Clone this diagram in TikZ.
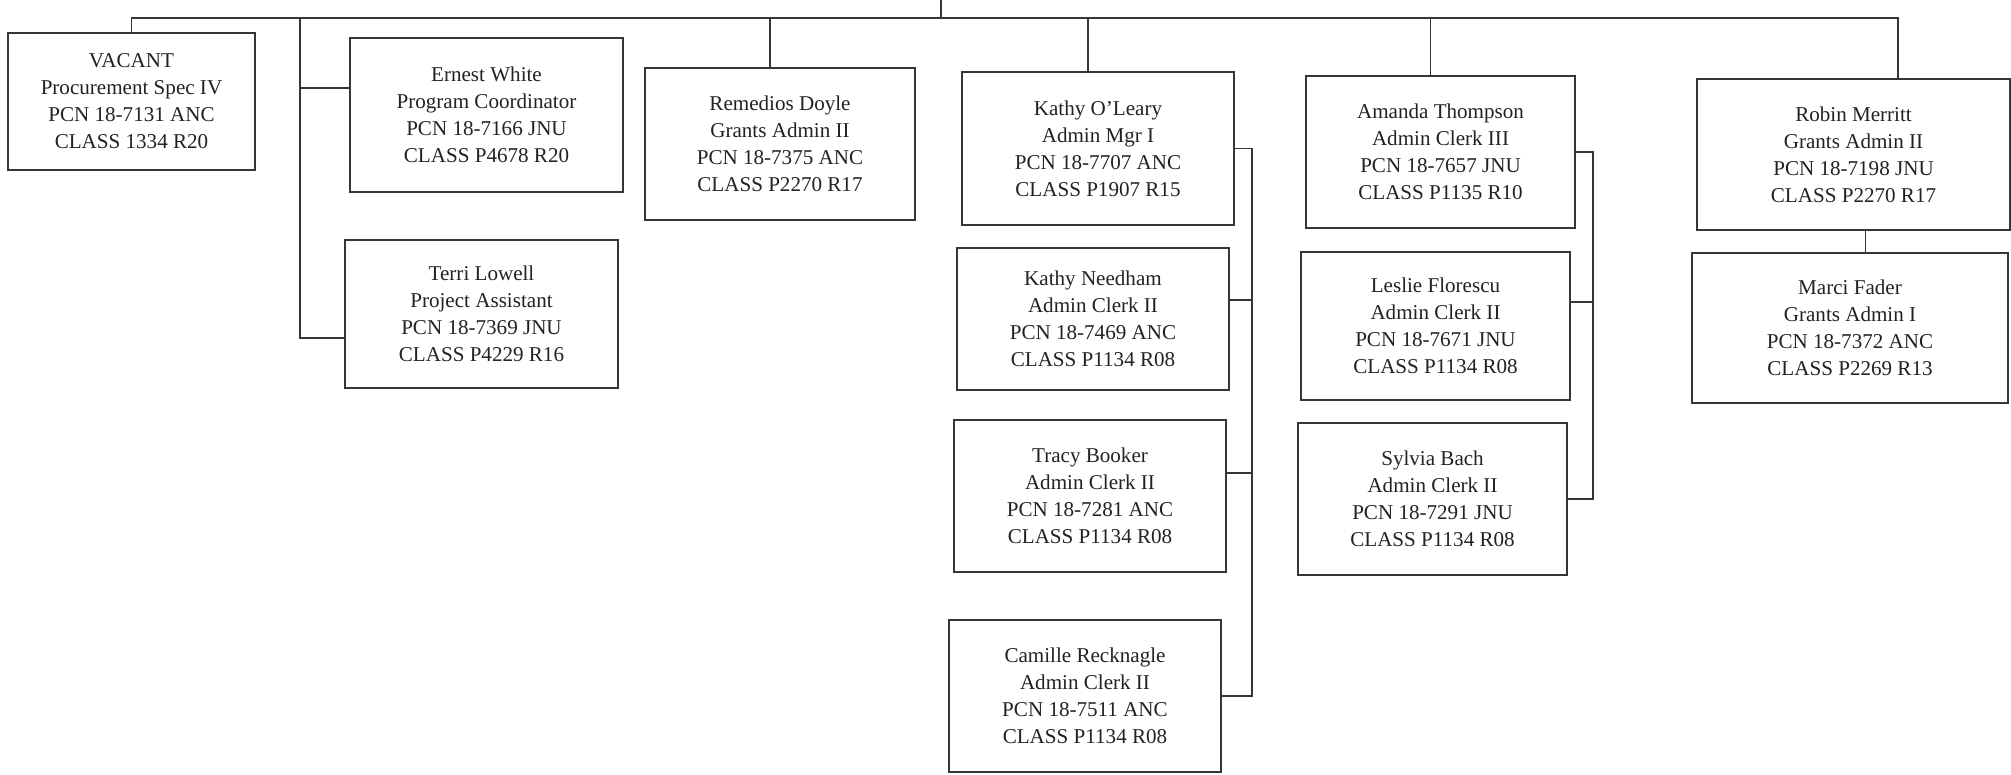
\documentclass[tikz,border=0pt]{standalone}
\usepackage{fontspec}
\setmainfont{Liberation Serif}
\usepackage{tikz}
\usetikzlibrary{positioning,calc}
\definecolor{cLine}{HTML}{363636}
\definecolor{cText}{HTML}{222222}
\tikzset{
  posbox/.style 2 args={draw=cLine, line width=1.1pt, fill=white, inner sep=0pt,
              minimum width=#1, minimum height=#2, align=center,
              font=\fontsize{12}{15.4}\selectfont, text=cText},
  link/.style={draw=cLine, line width=1.1pt}
}
\newcommand{\posn}[4]{#1\\#2\\#3\\#4}

\begin{document}
\begin{tikzpicture}[x=0.02cm, y=-0.02cm]
\useasboundingbox (0,0) rectangle (2011,774);
% top row
\node[posbox={4.94cm}{2.74cm}] (vacant) at (131.5,101.5)
  {\posn{VACANT}{Procurement Spec IV}{PCN 18-7131 ANC}{CLASS 1334 R20}};
\node[posbox={5.46cm}{3.08cm}] (white) at (486.5,115)
  {\posn{Ernest White}{Program Coordinator}{PCN 18-7166 JNU}{CLASS P4678 R20}};
\node[posbox={5.4cm}{3.04cm}] (doyle) at (780,144)
  {\posn{Remedios Doyle}{Grants Admin II}{PCN 18-7375 ANC}{CLASS P2270 R17}};
\node[posbox={5.44cm}{3.06cm}] (oleary) at (1098,148.5)
  {\posn{Kathy O'Leary}{Admin Mgr I}{PCN 18-7707 ANC}{CLASS P1907 R15}};
\node[posbox={5.38cm}{3.04cm}] (thompson) at (1440.5,152)
  {\posn{Amanda Thompson}{Admin Clerk III}{PCN 18-7657 JNU}{CLASS P1135 R10}};
\node[posbox={6.26cm}{3.02cm}] (merritt) at (1853.5,154.5)
  {\posn{Robin Merritt}{Grants Admin II}{PCN 18-7198 JNU}{CLASS P2270 R17}};
% second row and below
\node[posbox={5.46cm}{2.96cm}] (lowell) at (481.5,314)
  {\posn{Terri Lowell}{Project Assistant}{PCN 18-7369 JNU}{CLASS P4229 R16}};
\node[posbox={5.44cm}{2.84cm}] (needham) at (1093,319)
  {\posn{Kathy Needham}{Admin Clerk II}{PCN 18-7469 ANC}{CLASS P1134 R08}};
\node[posbox={5.44cm}{3.04cm}] (booker) at (1090,496)
  {\posn{Tracy Booker}{Admin Clerk II}{PCN 18-7281 ANC}{CLASS P1134 R08}};
\node[posbox={5.44cm}{3.04cm}] (recknagle) at (1085,696)
  {\posn{Camille Recknagle}{Admin Clerk II}{PCN 18-7511 ANC}{CLASS P1134 R08}};
\node[posbox={5.38cm}{2.96cm}] (florescu) at (1435.5,326)
  {\posn{Leslie Florescu}{Admin Clerk II}{PCN 18-7671 JNU}{CLASS P1134 R08}};
\node[posbox={5.38cm}{3.04cm}] (bach) at (1432.5,499)
  {\posn{Sylvia Bach}{Admin Clerk II}{PCN 18-7291 JNU}{CLASS P1134 R08}};
\node[posbox={6.32cm}{3.0cm}] (fader) at (1850,328)
  {\posn{Marci Fader}{Grants Admin I}{PCN 18-7372 ANC}{CLASS P2269 R13}};
% bus lines
\coordinate (top) at (941,0);
\coordinate (bus) at (941,18);
\coordinate (wbus) at (300,338);
\coordinate (kbus) at (1252,0);
\coordinate (abus) at (1593,0);
\draw[link] (top) -- (bus);
\draw[link] (vacant.north) |- (bus) -| ([xshift=0.89cm]merritt.north);
\foreach \n in {doyle, oleary, thompson}
  \draw[link] ([xshift=-0.2cm]\n.north) -- ([xshift=-0.2cm]\n.north |- bus);
% Ernest White group
\draw[link] (bus -| wbus) |- ([yshift=-0.48cm]lowell.west);
\draw[link] ([yshift=0.54cm]white.west) -- ([yshift=0.54cm]white.west -| wbus);
% Kathy O'Leary group
\draw[link] (oleary.east) -| (recknagle.east -| kbus) -- (recknagle.east);
\draw[link] ([yshift=0.38cm]needham.east) -- ([yshift=0.38cm]needham.east -| kbus);
\draw[link] ([yshift=0.46cm]booker.east) -- ([yshift=0.46cm]booker.east -| kbus);
% Amanda Thompson group
\draw[link] (thompson.east) -| (bach.east -| abus) -- (bach.east);
\draw[link] ([yshift=0.48cm]florescu.east) -- ([yshift=0.48cm]florescu.east -| abus);
% Robin Merritt group
\draw[link] ([xshift=0.24cm]merritt.south) -- ([xshift=0.24cm]merritt.south |- fader.north);
\end{tikzpicture}
\end{document}
